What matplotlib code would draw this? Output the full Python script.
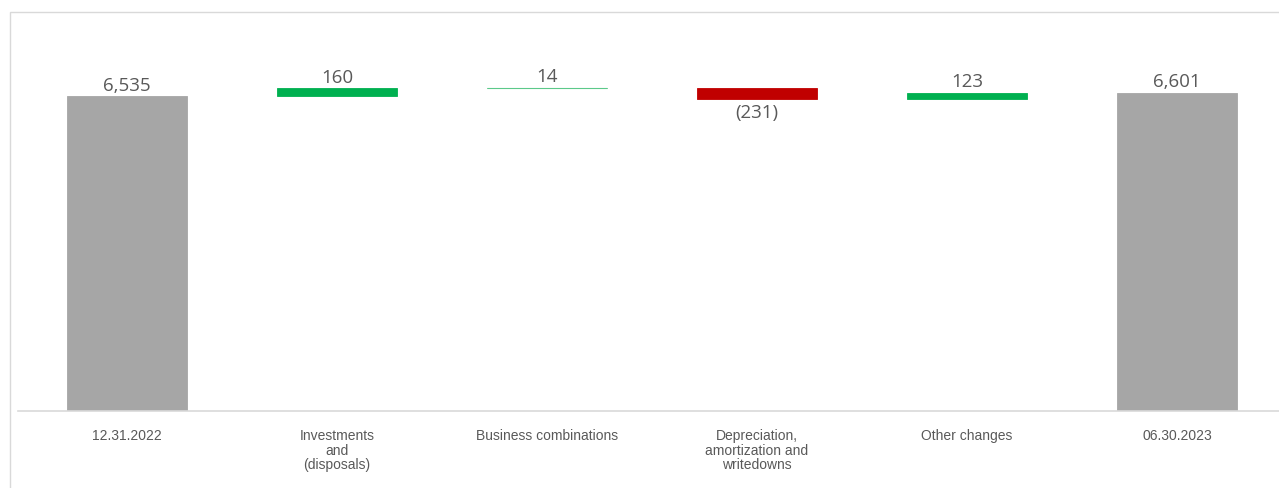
import matplotlib.pyplot as plt
from matplotlib.patches import Rectangle
import numpy as np

categories = ['12.31.2022', 'Investments\nand\n(disposals)', 'Business combinations',
              'Depreciation,\namortization and\nwritedowns', 'Other changes', '06.30.2023']
values = [6535, 160, 14, -231, 123, 6601]
kinds = ['total', 'delta', 'delta', 'delta', 'delta', 'total']
labels = ['6,535', '160', '14', '(231)', '123', '6,601']

gray = '#A6A6A6'
green = '#00B050'
red = '#C00000'
txt = '#595959'

# waterfall bottoms
bottoms = []
heights = []
colors = []
run = 0
for v, k in zip(values, kinds):
    if k == 'total':
        bottoms.append(0)
        heights.append(v)
        colors.append(gray)
        run = v
    else:
        if v >= 0:
            bottoms.append(run)
            colors.append(green)
        else:
            bottoms.append(run + v)
            colors.append(red)
        heights.append(abs(v))
        run += v

fig = plt.figure(figsize=(12.79, 4.88), dpi=100)
ax = fig.add_axes([18/1279, 77/488, 1 - 18/1279, (411-12)/488])

x = np.arange(len(values))
ax.bar(x, heights, bottom=bottoms, width=0.571, color=colors,
       edgecolor=colors, linewidth=0.6)
ax.bar(x[2], heights[2], bottom=bottoms[2], width=0.571, color='#5CC98A',
       edgecolor='#5CC98A', linewidth=0.8)

for i in range(len(values)):
    top = bottoms[i] + heights[i]
    if values[i] >= 0:
        ax.annotate(labels[i], (x[i], top), xytext=(0, 1), textcoords='offset points',
                    ha='center', va='bottom', fontsize=13.5, color=txt, family='Open Sans')
    else:
        ax.annotate(labels[i], (x[i], bottoms[i]), xytext=(0, -3.5), textcoords='offset points',
                    ha='center', va='top', fontsize=13.5, color=txt, family='Open Sans')

ax.set_xlim((18-127)/210, (1279-127)/210)
ax.set_ylim(0, 399/(315/6535))
ax.set_xticks(x)
ax.set_xticklabels(categories, fontsize=10, color=txt, family='Liberation Sans',
                   linespacing=1.05)
ax.tick_params(axis='x', length=0, pad=13)
ax.set_yticks([])
for s in ['top', 'right', 'left']:
    ax.spines[s].set_visible(False)
ax.spines['bottom'].set_color('#D9D9D9')
ax.spines['bottom'].set_linewidth(1.2)

fig.patches.append(Rectangle((10/1279, -0.1), 1.2, 1 - 12/488 + 0.1,
                             transform=fig.transFigure, fill=False,
                             edgecolor='#D9D9D9', linewidth=1, zorder=0))

plt.savefig('out.png', dpi=100)
